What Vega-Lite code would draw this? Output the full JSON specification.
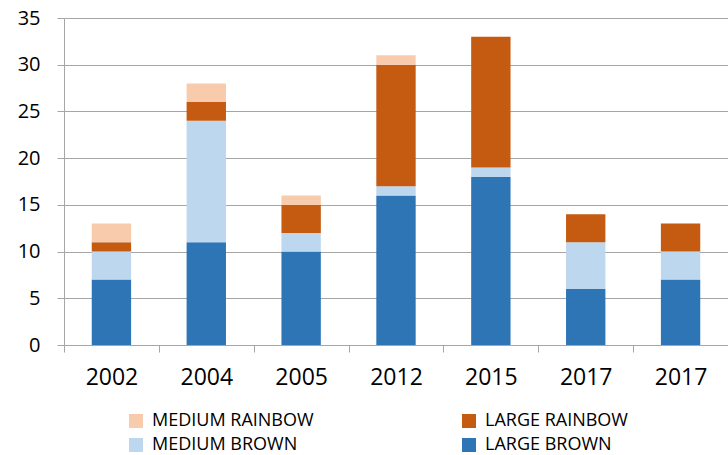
{
  "$schema": "https://vega.github.io/schema/vega-lite/v6.json",
  "width": 664,
  "height": 327,
  "autosize": {"type": "none"},
  "padding": {"left": 64, "top": 18, "right": 0, "bottom": 110},
  "background": "white",
  "config": {
    "font": "Open Sans",
    "view": {"stroke": null}
  },
  "data": {
    "values": [
      {"period": "2002", "type": "LARGE BROWN", "rank": 1, "count": 7},
      {"period": "2002", "type": "MEDIUM BROWN", "rank": 2, "count": 3},
      {"period": "2002", "type": "LARGE RAINBOW", "rank": 3, "count": 1},
      {"period": "2002", "type": "MEDIUM RAINBOW", "rank": 4, "count": 2},
      {"period": "2004", "type": "LARGE BROWN", "rank": 1, "count": 11},
      {"period": "2004", "type": "MEDIUM BROWN", "rank": 2, "count": 13},
      {"period": "2004", "type": "LARGE RAINBOW", "rank": 3, "count": 2},
      {"period": "2004", "type": "MEDIUM RAINBOW", "rank": 4, "count": 2},
      {"period": "2005", "type": "LARGE BROWN", "rank": 1, "count": 10},
      {"period": "2005", "type": "MEDIUM BROWN", "rank": 2, "count": 2},
      {"period": "2005", "type": "LARGE RAINBOW", "rank": 3, "count": 3},
      {"period": "2005", "type": "MEDIUM RAINBOW", "rank": 4, "count": 1},
      {"period": "2012", "type": "LARGE BROWN", "rank": 1, "count": 16},
      {"period": "2012", "type": "MEDIUM BROWN", "rank": 2, "count": 1},
      {"period": "2012", "type": "LARGE RAINBOW", "rank": 3, "count": 13},
      {"period": "2012", "type": "MEDIUM RAINBOW", "rank": 4, "count": 1},
      {"period": "2015", "type": "LARGE BROWN", "rank": 1, "count": 18},
      {"period": "2015", "type": "MEDIUM BROWN", "rank": 2, "count": 1},
      {"period": "2015", "type": "LARGE RAINBOW", "rank": 3, "count": 14},
      {"period": "2015", "type": "MEDIUM RAINBOW", "rank": 4, "count": 0},
      {"period": "2017a", "type": "LARGE BROWN", "rank": 1, "count": 6},
      {"period": "2017a", "type": "MEDIUM BROWN", "rank": 2, "count": 5},
      {"period": "2017a", "type": "LARGE RAINBOW", "rank": 3, "count": 3},
      {"period": "2017a", "type": "MEDIUM RAINBOW", "rank": 4, "count": 0},
      {"period": "2017b", "type": "LARGE BROWN", "rank": 1, "count": 7},
      {"period": "2017b", "type": "MEDIUM BROWN", "rank": 2, "count": 3},
      {"period": "2017b", "type": "LARGE RAINBOW", "rank": 3, "count": 3},
      {"period": "2017b", "type": "MEDIUM RAINBOW", "rank": 4, "count": 0}
    ]
  },
  "mark": {"type": "bar", "width": {"band": 0.415}},
  "encoding": {
    "x": {
      "field": "period",
      "type": "nominal",
      "sort": null,
      "scale": {"paddingInner": 0, "paddingOuter": 0},
      "axis": {
        "title": null,
        "labelAngle": 0,
        "labelExpr": "substring(datum.label, 0, 4)",
        "tickBand": "extent",
        "tickSize": 7,
        "tickColor": "#A6A6A6",
        "domainColor": "#A6A6A6",
        "labelFontSize": 23,
        "labelPadding": 14,
        "labelColor": "#000000"
      }
    },
    "y": {
      "field": "count",
      "type": "quantitative",
      "stack": "zero",
      "scale": {"domain": [0, 35], "nice": false},
      "axis": {
        "title": null,
        "values": [0, 5, 10, 15, 20, 25, 30, 35],
        "grid": true,
        "gridColor": "#A6A6A6",
        "tickSize": 7,
        "tickColor": "#A6A6A6",
        "domainColor": "#A6A6A6",
        "labelFontSize": 20,
        "labelPadding": 17,
        "labelColor": "#000000"
      }
    },
    "color": {
      "field": "type",
      "type": "nominal",
      "scale": {
        "domain": ["MEDIUM RAINBOW", "MEDIUM BROWN", "LARGE RAINBOW", "LARGE BROWN"],
        "range": ["#F8CBAD", "#BDD7EE", "#C55A11", "#2E75B6"]
      },
      "legend": {
        "title": null,
        "orient": "none",
        "legendX": 63,
        "legendY": 394,
        "columns": 2,
        "columnPadding": 146,
        "rowPadding": 6,
        "symbolType": "square",
        "symbolSize": 196,
        "symbolStrokeWidth": 0,
        "labelFontSize": 18,
        "labelLimit": 400,
        "labelOffset": 7,
        "labelColor": "#000000"
      }
    },
    "order": {"field": "rank", "type": "quantitative"}
  }
}
